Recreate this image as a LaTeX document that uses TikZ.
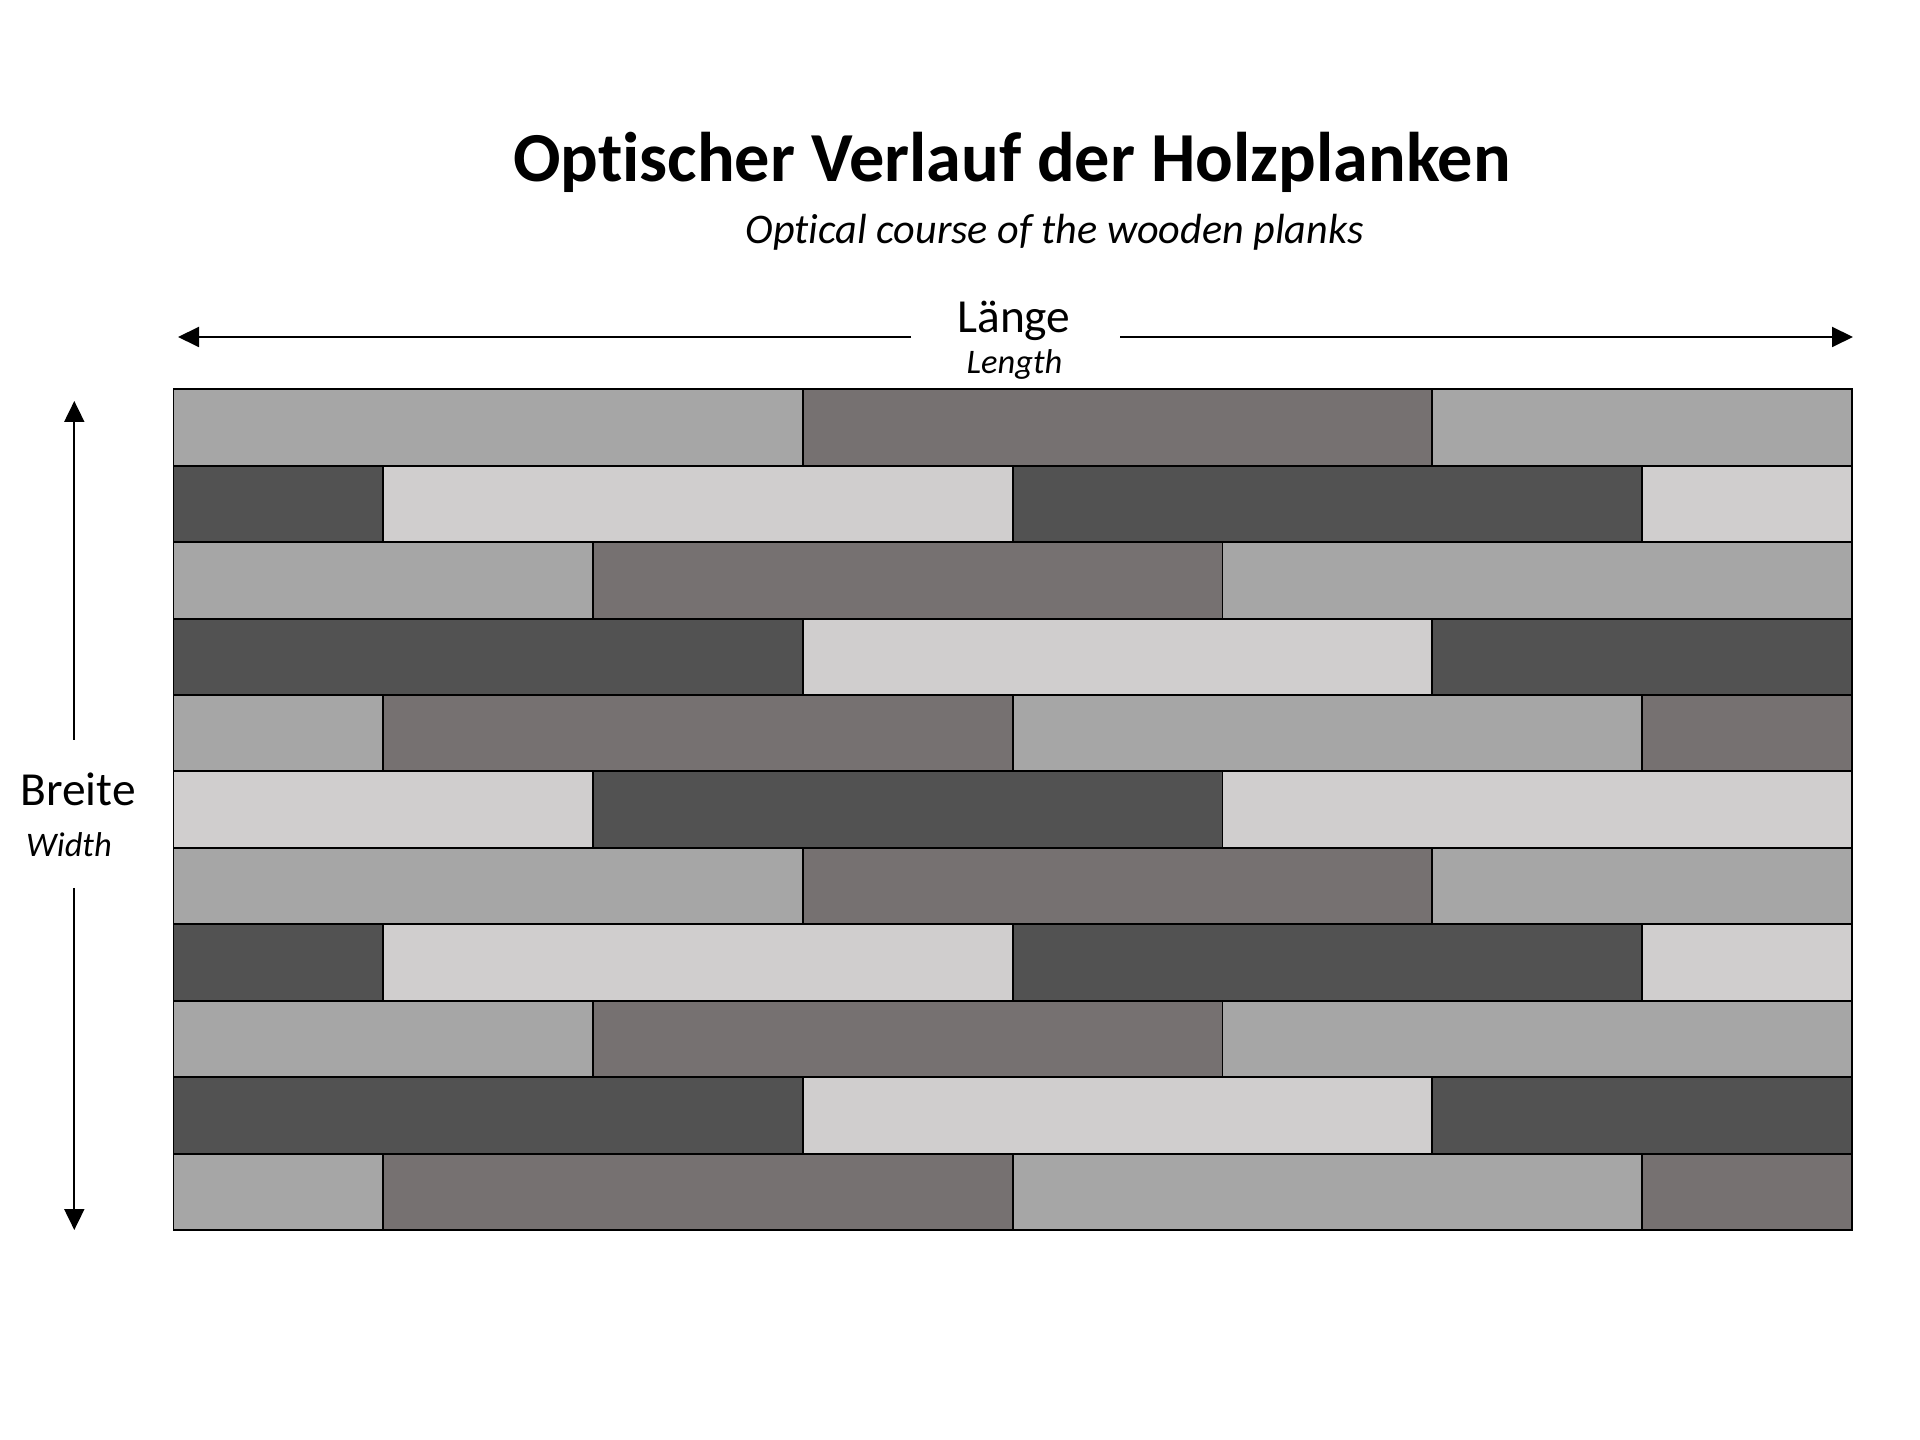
\documentclass[tikz,border=0pt]{standalone}
\usepackage{fontspec}
\setmainfont{Carlito}[Ligatures=NoCommon]
\usetikzlibrary{arrows.meta}
\definecolor{plankA}{HTML}{A6A6A6}
\definecolor{plankB}{HTML}{767171}
\definecolor{plankC}{HTML}{525252}
\definecolor{plankD}{HTML}{D0CECE}
\tikzset{
  plank/.style={draw=black, line width=0.55pt},
  dimarrow/.style={-{Triangle[length=2.1mm,width=2mm]}, line width=0.55pt},
  bigtext/.style={font=\fontsize{13.5}{16}\selectfont, anchor=base, inner sep=0pt},
  smalltext/.style={font=\fontsize{9.8}{11}\selectfont\itshape, anchor=base, inner sep=0pt}
}

\begin{document}
\begin{tikzpicture}[x=0.1mm,y=-0.1mm]
\useasboundingbox (0,0) rectangle (1920,1440);

\node[font=\fontsize{20}{24}\selectfont\bfseries, anchor=base, inner sep=0pt] (title) at (1012,181.7) {Optischer Verlauf der Holzplanken};
\node[bigtext, font=\fontsize{12}{14}\selectfont\itshape] (subtitle) at (1054.5,243.5) {Optical course of the wooden planks};

\node[bigtext] (laenge) at (1014,333) {Länge};
\node[smalltext] (length) at (1014.5,374) {Length};
\node[bigtext] (breite) at (78,806) {Breite};
\node[smalltext] (width) at (69,857) {Width};

\coordinate (hL) at (911,337);
\coordinate (hLtip) at (178,337);
\coordinate (hR) at (1120,337);
\coordinate (hRtip) at (1853,337);
\coordinate (vT) at (74.3,740);
\coordinate (vTtip) at (74.3,401);
\coordinate (vB) at (74.3,888);
\coordinate (vBtip) at (74.3,1230);
\draw[dimarrow] (hL) -- (hLtip);
\draw[dimarrow] (hR) -- (hRtip);
\draw[dimarrow] (vT) -- (vTtip);
\draw[dimarrow] (vB) -- (vBtip);

\foreach \r/\o/\ca/\cb in {0/0/plankA/plankB, 1/-2/plankC/plankD, 2/-1/plankA/plankB,
  3/0/plankC/plankD, 4/-2/plankA/plankB, 5/-1/plankD/plankC, 6/0/plankA/plankB,
  7/-2/plankC/plankD, 8/-1/plankA/plankB, 9/0/plankC/plankD, 10/-2/plankA/plankB}
\foreach \k in {0,1,2,3} {
  \pgfmathsetmacro\xa{max(0,\o+3*\k)}
  \pgfmathsetmacro\xb{min(8,\o+3*\k+3)}
  \ifodd\k \def\col{\cb}\else\def\col{\ca}\fi
  \ifdim\xa pt<\xb pt
    \filldraw[plank, fill=\col] (173.5+209.8*\xa, 389.3+76.43*\r) rectangle (173.5+209.8*\xb, 465.73+76.43*\r);
  \fi
}
\end{tikzpicture}
\end{document}
